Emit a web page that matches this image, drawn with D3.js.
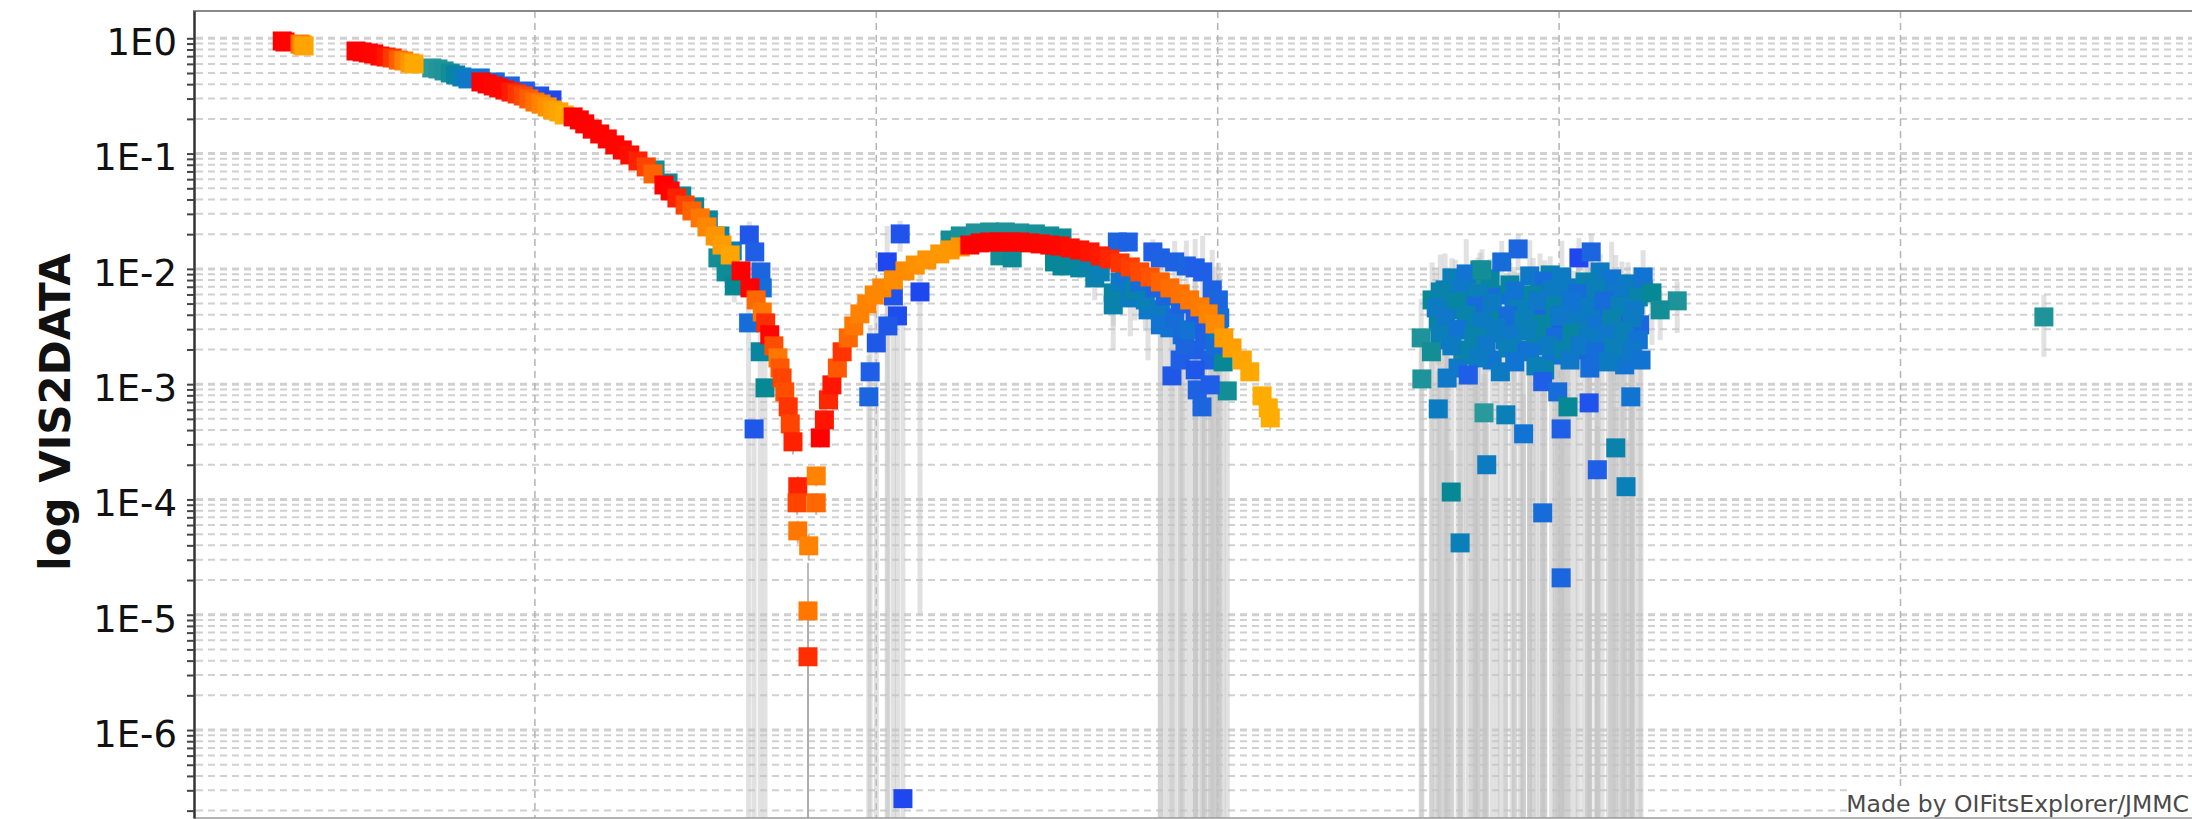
<!DOCTYPE html>
<html>
<head>
<meta charset="utf-8">
<script src="https://cdn.jsdelivr.net/npm/d3@7"></script>
<style>
  html, body { margin: 0; padding: 0; background: #fff; }
  svg { display: block; }
</style>
</head>
<body>
<svg id="chart" width="2192" height="819"></svg>
<script>
// ---- K band (long wavelengths): spatial frequency, squared visibility, error, wavelength (µm)
const kFreq = [
  13.0, 13.4, 15.6, 15.9, 16.2,
  23.8, 24.7, 25.6, 26.4, 27.3, 28.2, 29.1, 30.0, 30.8, 31.7, 32.3,
  42.1, 43.0, 43.9, 44.7, 45.6, 46.5, 47.4, 48.3, 49.1, 50.0, 50.9, 51.8, 52.6, 53.5, 54.3,
  55.6, 56.5, 57.3, 58.4, 59.5, 60.6, 61.7, 62.8, 63.9, 65.1, 66.3, 67.3,
  68.9, 69.8, 70.8, 72.0, 73.0, 74.2, 75.2, 76.4, 77.4, 78.6,
  80.2, 81.5, 82.4, 83.3, 83.8, 84.4, 85.0, 85.6, 85.9, 86.2, 86.6, 87.1, 87.4, 87.8,
  88.5, 88.4, 88.5, 90.1, 90.0, 90.0, 91.2, 91.2,
  91.8, 92.4, 93.0, 93.5, 94.3, 95.0, 95.9, 96.7, 97.6, 98.6, 99.7, 100.8, 102.5, 104.2, 105.7, 107.4, 109.3, 110.8, 112.3,
  113.7, 115.2, 116.6, 118.1, 119.6, 121.0, 122.5, 124.0, 125.4, 126.9, 128.4, 129.8, 131.3, 132.8, 134.2, 135.7,
  137.2, 138.6, 140.1, 141.6, 143.0, 144.5, 145.9, 147.4, 148.6, 149.6, 150.9, 152.1, 153.6, 154.7, 156.5, 157.4, 157.7
];
const kVis2 = [
  0.948, 0.929, 0.892, 0.875, 0.858,
  0.776, 0.761, 0.746, 0.731, 0.702, 0.688, 0.675, 0.648, 0.636, 0.611, 0.599,
  0.418, 0.402, 0.386, 0.371, 0.356, 0.342, 0.329, 0.316, 0.298, 0.280, 0.269, 0.254, 0.239, 0.230, 0.216,
  0.208, 0.196, 0.181, 0.163, 0.148, 0.134, 0.119, 0.1075, 0.0973, 0.0863, 0.0766, 0.0666,
  0.0534, 0.0474, 0.0412, 0.0358, 0.0318, 0.0277, 0.0231, 0.0193, 0.0161, 0.0132,
  9.60e-3, 6.84e-3, 5.38e-3, 4.23e-3, 3.40e-3, 2.68e-3, 2.15e-3, 1.69e-3, 1.38e-3, 1.13e-3, 8.57e-4, 6.35e-4, 4.52e-4, 3.16e-4,
  1.29e-4, 9.35e-5, 5.34e-5, 3.96e-5, 1.08e-5, 4.32e-6, 9.35e-5, 1.60e-4,
  3.42e-4, 4.90e-4, 7.31e-4, 9.86e-4, 1.38e-3, 1.91e-3, 2.52e-3, 3.20e-3, 4.07e-3, 4.97e-3, 5.94e-3, 6.84e-3, 8.02e-3, 9.60e-3, 0.0108, 0.01196, 0.01348, 0.0146, 0.0155,
  0.0161, 0.0168, 0.0171, 0.0171, 0.0171, 0.0171, 0.0168, 0.01646, 0.0161, 0.0158, 0.0152, 0.0146, 0.01403, 0.01296, 0.0122, 0.01126,
  0.0104, 9.41e-3, 8.51e-3, 7.70e-3, 6.84e-3, 6.07e-3, 5.38e-3, 4.68e-3, 4.07e-3, 3.33e-3, 2.52e-3, 2.06e-3, 1.62e-3, 1.28e-3, 7.91e-4, 6.23e-4, 5.10e-4
];
const kErr = [
  0.012, 0.012, 0.011, 0.011, 0.011,
  0.010, 0.010, 0.010, 0.010, 0.009, 0.009, 0.009, 0.009, 0.008, 0.008, 0.008,
  0.006, 0.006, 0.005, 0.005, 0.005, 0.005, 0.005, 0.004, 0.004, 0.004, 0.004, 0.004, 0.003, 0.003, 0.003,
  0.003, 0.003, 0.003, 0.002, 0.002, 0.002, 0.002, 0.0015, 0.0014, 0.0013, 0.0012, 0.0011,
  0.0009, 0.0008, 0.0007, 0.0006, 0.0006, 0.0005, 0.0005, 0.0004, 0.0004, 0.0003,
  2.5e-4, 2.2e-4, 2.0e-4, 1.8e-4, 1.6e-4, 1.5e-4, 1.4e-4, 1.3e-4, 1.2e-4, 1.1e-4, 1.0e-4, 9e-5, 8e-5, 7e-5,
  3e-5, 2e-5, 1.2e-5, 1e-5, 1.74e-5, 8e-6, 2e-5, 3e-5,
  6e-5, 6e-5, 7e-5, 8e-5, 9e-5, 1.0e-4, 1.1e-4, 1.2e-4, 1.3e-4, 1.4e-4, 1.5e-4, 1.6e-4, 1.7e-4, 1.8e-4, 2e-4, 2e-4, 2e-4, 2e-4, 2e-4,
  2e-4, 2e-4, 2e-4, 2e-4, 2e-4, 2e-4, 2e-4, 2e-4, 2e-4, 2e-4, 2e-4, 2e-4, 2e-4, 2e-4, 2e-4, 2e-4,
  2e-4, 2e-4, 2e-4, 2e-4, 2e-4, 2e-4, 2e-4, 2e-4, 2e-4, 2e-4, 2e-4, 2e-4, 2e-4, 2e-4, 1.5e-4, 1.2e-4, 1e-4
];
const kWave = [
  2.40, 2.37, 2.14, 2.08, 2.02,
  2.40, 2.39, 2.37, 2.35, 2.33, 2.30, 2.24, 2.17, 2.10, 2.05, 2.01,
  2.40, 2.38, 2.36, 2.34, 2.32, 2.29, 2.25, 2.21, 2.17, 2.13, 2.10, 2.07, 2.04, 2.02, 2.00,
  2.40, 2.40, 2.39, 2.38, 2.37, 2.36, 2.35, 2.33, 2.31, 2.28, 2.22, 2.16,
  2.40, 2.36, 2.28, 2.22, 2.16, 2.12, 2.09, 2.06, 2.04, 2.02,
  2.40, 2.38, 2.15, 2.12, 2.26, 2.36, 2.20, 2.12, 2.18, 2.22, 2.20, 2.25, 2.22, 2.28,
  2.28, 2.22, 2.12, 2.10, 2.12, 2.26, 2.15, 2.10,
  2.40, 2.30, 2.27, 2.30, 2.18, 2.25, 2.15, 2.12, 2.10, 2.10, 2.09, 2.09, 2.08, 2.08, 2.07, 2.06, 2.05, 2.05, 2.06,
  2.40, 2.40, 2.39, 2.38, 2.37, 2.36, 2.35, 2.34, 2.33, 2.32, 2.31, 2.31, 2.30, 2.29, 2.27, 2.25,
  2.23, 2.21, 2.19, 2.16, 2.14, 2.13, 2.12, 2.11, 2.10, 2.08, 2.04, 2.03, 2.02, 2.01, 2.00, 2.00, 2.00
];

// ---- H band (short wavelengths), first and second lobes
const hFreq = [
  34.9, 35.8, 36.7, 37.6, 38.4, 39.3, 40.2, 42.0, 44.2, 46.4, 48.6, 50.7, 52.5,
  67.6, 69.5, 71.5, 73.4, 75.4, 77.1, 78.9, 76.8, 78.0, 79.2,
  81.4, 82.2, 83.1, 83.3, 81.3, 83.0, 83.7, 82.1,
  103.5, 101.6, 102.5, 103.1, 106.4, 100.0, 99.1, 98.9, 101.7, 103.9,
  110.8, 112.3, 114.5, 116.6, 118.9, 121.0, 123.3, 125.4, 127.2, 118.1, 119.9, 126.1, 127.2,
  135.3, 136.9, 140.5, 143.7, 145.4, 147.8, 149.2, 149.5,
  129.8, 132.0, 134.7, 134.7, 137.2, 139.8, 143.0, 144.8, 146.7, 148.9, 150.8, 143.3, 147.0, 147.7, 151.4,
  131.3, 132.8, 135.7, 136.4, 137.9, 138.6, 139.4, 140.8, 141.6, 141.6, 142.3, 143.7, 144.5, 144.5,
  145.2, 145.9, 146.7, 146.7, 148.1, 148.1, 148.9, 149.6, 150.1, 141.6, 146.7, 150.1, 150.3
];
const hVis2 = [
  0.553, 0.542, 0.521, 0.500, 0.481, 0.462, 0.444, 0.453, 0.418, 0.386, 0.349, 0.316, 0.292,
  0.0721, 0.0556, 0.0429, 0.0345, 0.0266, 0.0193, 0.0143, 0.01245, 9.41e-3, 7.12e-3,
  0.0197, 0.01403, 9.41e-3, 6.84e-3, 3.40e-3, 1.91e-3, 9.29e-4, 4.09e-4,
  0.0201, 0.01149, 5.83e-3, 3.91e-3, 6.31e-3, 2.28e-3, 1.28e-3, 7.76e-4, 3.20e-3, 2.54e-7,
  0.0178, 0.0193, 0.0205, 0.0209, 0.0209, 0.0205, 0.0201, 0.0193, 0.01855, 0.01296, 0.01245, 0.01149, 0.0106,
  0.0171, 0.0171, 0.01403, 0.01149, 0.0106, 9.41e-3, 6.57e-3, 4.41e-3,
  0.0102, 8.35e-3, 6.19e-3, 4.87e-3, 5.60e-3, 4.41e-3, 3.08e-3, 2.68e-3, 1.98e-3, 1.62e-3, 1.56e-3, 1.18e-3, 8.92e-4, 6.35e-4, 8.74e-4,
  0.01149, 9.41e-3, 7.70e-3, 8.86e-3, 6.57e-3, 7.70e-3, 5.38e-3, 6.84e-3, 4.41e-3, 3.27e-3, 5.83e-3, 3.76e-3, 4.97e-3, 1.62e-3,
  2.19e-3, 2.96e-3, 4.23e-3, 1.33e-3, 2.42e-3, 3.47e-3, 9.86e-4, 2.19e-3, 2.96e-3, 0.01245, 0.0102, 5.38e-3, 3.76e-3
];
const hErr = [
  0.015, 0.015, 0.015, 0.014, 0.014, 0.013, 0.013, 0.012, 0.012, 0.011, 0.010, 0.010, 0.009,
  0.004, 0.003, 0.003, 0.0025, 0.002, 0.002, 0.0015, 0.002, 0.002, 0.002,
  0.006, 0.005, 0.004, 0.004, 0.0045, 0.0025, 0.0012, 0.0006,
  0.006, 0.012, 0.007, 0.005, 0.0063, 0.003, 0.002, 0.001, 0.004, 0.005,
  0.002, 0.002, 0.002, 0.002, 0.002, 0.002, 0.002, 0.002, 0.002, 0.002, 0.002, 0.002, 0.002,
  0.003, 0.003, 0.004, 0.006, 0.007, 0.010, 0.008, 0.006,
  0.002, 0.003, 0.003, 0.0029, 0.003, 0.0028, 0.004, 0.003, 0.0025, 0.002, 0.0018, 0.0015, 0.001, 0.0008, 0.001,
  0.002, 0.002, 0.003, 0.002, 0.003, 0.003, 0.0025, 0.004, 0.005, 0.004, 0.006, 0.004, 0.006, 0.002,
  0.003, 0.0035, 0.005, 0.0016, 0.003, 0.004, 0.0012, 0.0025, 0.0035, 0.004, 0.008, 0.006, 0.005
];
const hWave = [
  1.80, 1.79, 1.78, 1.76, 1.72, 1.68, 1.64, 1.62, 1.60, 1.58, 1.56, 1.54, 1.52,
  1.76, 1.75, 1.74, 1.73, 1.72, 1.70, 1.68, 1.76, 1.75, 1.74,
  1.55, 1.56, 1.58, 1.60, 1.60, 1.72, 1.74, 1.55,
  1.54, 1.52, 1.54, 1.53, 1.52, 1.55, 1.56, 1.58, 1.55, 1.52,
  1.76, 1.77, 1.78, 1.78, 1.78, 1.78, 1.77, 1.76, 1.75, 1.76, 1.75, 1.74, 1.73,
  1.58, 1.57, 1.56, 1.57, 1.58, 1.56, 1.57, 1.58,
  1.72, 1.70, 1.72, 1.70, 1.66, 1.64, 1.62, 1.60, 1.56, 1.57, 1.74, 1.55, 1.57, 1.58, 1.76,
  1.70, 1.68, 1.66, 1.62, 1.70, 1.60, 1.68, 1.58, 1.66, 1.62, 1.58, 1.60, 1.57, 1.56,
  1.58, 1.62, 1.56, 1.55, 1.57, 1.56, 1.56, 1.60, 1.66, 1.57, 1.56, 1.58, 1.60
];

// ---- H band, long baselines (noisy group) and the single longest baseline
const longFreq = [
  181.4, 182.3, 183.3, 183.6, 184.3, 184.8, 185.5, 185.9, 186.7, 187.2, 187.8, 188.4, 189.2, 189.9, 190.2,
  190.9, 191.4, 192.1, 192.8, 193.4, 194.0, 194.6, 195.3, 195.7, 196.5, 197.2, 197.9, 198.4, 198.9, 199.7,
  200.4, 201.0, 201.6, 202.3, 203.1, 203.6, 204.2, 205.0, 205.6, 206.3, 206.9, 207.5, 208.0, 208.6, 209.2,
  209.8, 210.4, 211.1, 211.8, 212.3, 185.2, 197.9, 204.5, 209.6, 191.4, 188.4, 198.7, 206.0,
  184.3, 186.4, 189.9, 195.7, 197.9, 200.4, 203.8, 207.7, 210.1,
  182.6, 185.8, 188.1, 193.5, 196.2, 199.0, 202.8, 205.4, 208.3, 211.6,
  182.0, 185.2, 187.8, 190.2, 194.3, 196.9, 199.4, 201.9, 204.5, 206.6, 208.9, 211.0,
  183.4, 186.4, 188.7, 192.5, 194.8, 197.5, 200.1, 202.8, 205.7, 207.7, 210.7,
  182.6, 185.2, 187.5, 190.8, 193.1, 195.4, 199.5, 201.9, 204.2, 206.9, 209.5, 211.6,
  184.3, 186.9, 189.3, 192.5, 195.7, 198.4, 200.7, 203.1, 205.4, 208.0, 210.7,
  188.1, 193.5, 196.6, 201.6, 207.2,
  194.0, 191.6, 202.9, 204.7, 188.7, 212.3, 213.6, 217.3, 214.8, 179.8, 181.3, 179.9, 183.6, 186.7, 182.3,
  189.0, 192.2, 194.8, 197.6, 199.8, 201.3, 204.4, 200.3, 208.3, 210.5, 212.0, 205.6, 189.4, 209.8, 184.2,
  197.6, 185.5, 200.3,
  271.0
];
const longVis2 = [
  5.38e-3, 3.47e-3, 6.57e-3, 2.42e-3, 4.41e-3, 8.02e-3, 2.96e-3, 1.79e-3, 5.38e-3, 3.61e-3, 2.19e-3, 6.84e-3, 4.41e-3, 2.78e-3, 1.62e-3,
  5.94e-3, 3.76e-3, 2.42e-3, 7.26e-3, 4.87e-3, 3.08e-3, 1.98e-3, 5.60e-3, 3.76e-3, 2.42e-3, 6.57e-3, 4.23e-3, 2.84e-3, 1.79e-3, 5.38e-3,
  3.61e-3, 2.19e-3, 6.84e-3, 4.59e-3, 2.96e-3, 1.98e-3, 5.94e-3, 3.99e-3, 2.52e-3, 1.62e-3, 6.57e-3, 4.41e-3, 2.96e-3, 1.91e-3, 5.60e-3,
  3.76e-3, 2.42e-3, 4.87e-3, 3.27e-3, 6.57e-3, 1.38e-3, 1.33e-3, 1.38e-3, 1.47e-3, 1.28e-3, 9.79e-3, 8.86e-3, 9.41e-3,
  8.35e-3, 9.04e-3, 8.18e-3, 8.69e-3, 7.86e-3, 8.51e-3, 7.70e-3, 8.18e-3, 7.41e-3,
  6.31e-3, 6.70e-3, 6.07e-3, 6.44e-3, 5.94e-3, 6.57e-3, 6.07e-3, 6.84e-3, 6.19e-3, 5.71e-3,
  4.59e-3, 5.17e-3, 4.77e-3, 5.07e-3, 4.50e-3, 5.28e-3, 4.77e-3, 5.17e-3, 4.68e-3, 5.28e-3, 4.77e-3, 4.32e-3,
  3.76e-3, 3.99e-3, 3.54e-3, 3.91e-3, 3.61e-3, 3.33e-3, 3.91e-3, 3.54e-3, 3.20e-3, 3.68e-3, 3.76e-3,
  2.73e-3, 2.96e-3, 2.62e-3, 3.08e-3, 2.68e-3, 2.90e-3, 2.57e-3, 2.78e-3, 2.52e-3, 2.73e-3, 2.90e-3, 2.42e-3,
  2.15e-3, 1.98e-3, 2.19e-3, 2.06e-3, 1.91e-3, 2.15e-3, 1.98e-3, 2.15e-3, 1.91e-3, 2.06e-3, 1.91e-3,
  1.69e-3, 1.56e-3, 1.44e-3, 1.62e-3, 1.56e-3,
  0.01489, 0.01149, 0.01245, 0.01403, 9.79e-3, 8.51e-3, 6.19e-3, 5.28e-3, 4.41e-3, 2.52e-3, 1.91e-3, 1.11e-3, 1.13e-3, 1.20e-3, 6.10e-4,
  5.64e-4, 5.42e-4, 3.71e-4, 1.05e-3, 8.57e-4, 6.35e-4, 6.88e-4, 4.09e-4, 2.80e-4, 7.76e-4, 1.62e-3, 1.81e-4, 2.00e-4, 1.29e-4, 1.16e-4,
  7.65e-5, 4.20e-5, 2.09e-5,
  3.83e-3
];
const longErr = [
  0.006, 0.002, 0.007, 0.003, 0.002, 0.004, 0.0035, 0.002, 0.003, 0.004, 0.0025, 0.003, 0.005, 0.0015, 0.002,
  0.0065, 0.002, 0.003, 0.004, 0.0055, 0.0015, 0.0025, 0.003, 0.0045, 0.0012, 0.007, 0.005, 0.0015, 0.002, 0.003,
  0.004, 0.0025, 0.003, 0.005, 0.0015, 0.0022, 0.0065, 0.002, 0.003, 0.0018, 0.003, 0.005, 0.0035, 0.001, 0.006,
  0.002, 0.003, 0.0055, 0.004, 0.003, 0.0016, 0.0015, 0.0016, 0.0017, 0.0015, 0.004, 0.004, 0.004,
  0.004, 0.009, 0.004, 0.009, 0.004, 0.009, 0.004, 0.009, 0.004,
  0.007, 0.003, 0.0065, 0.003, 0.0065, 0.003, 0.0065, 0.003, 0.007, 0.003,
  0.005, 0.002, 0.0055, 0.002, 0.005, 0.002, 0.0055, 0.002, 0.005, 0.002, 0.0055, 0.002,
  0.004, 0.0015, 0.004, 0.0015, 0.004, 0.0015, 0.0045, 0.0015, 0.0035, 0.0015, 0.004,
  0.003, 0.0012, 0.003, 0.0012, 0.003, 0.0012, 0.003, 0.0012, 0.003, 0.0012, 0.0035, 0.001,
  0.0025, 0.001, 0.0025, 0.001, 0.0022, 0.001, 0.0022, 0.001, 0.0022, 0.001, 0.0022,
  0.002, 0.0018, 0.0017, 0.0019, 0.0018,
  0.005, 0.006, 0.006, 0.006, 0.005, 0.006, 0.004, 0.0025, 0.002, 0.003, 0.0022, 0.0013, 0.0013, 0.0014, 7e-4,
  6.5e-4, 6e-4, 4.5e-4, 0.0012, 0.001, 7e-4, 8e-4, 5e-4, 3.5e-4, 9e-4, 0.0019, 2.5e-4, 2.5e-4, 2e-4, 1.5e-4,
  1e-4, 6e-5, 3e-5,
  0.0021
];
const longWave = [
  1.74, 1.72, 1.66, 1.60, 1.70, 1.68, 1.62, 1.75, 1.64, 1.72, 1.58, 1.76, 1.66, 1.70, 1.62,
  1.60, 1.74, 1.66, 1.72, 1.64, 1.76, 1.60, 1.70, 1.62, 1.74, 1.66, 1.58, 1.72, 1.62, 1.68,
  1.56, 1.70, 1.64, 1.60, 1.72, 1.58, 1.66, 1.62, 1.56, 1.64, 1.70, 1.58, 1.62, 1.60, 1.66,
  1.56, 1.64, 1.62, 1.58, 1.62, 1.64, 1.70, 1.60, 1.62, 1.66, 1.74, 1.70, 1.66,
  1.68, 1.62, 1.72, 1.64, 1.60, 1.66, 1.70, 1.62, 1.66,
  1.70, 1.64, 1.68, 1.62, 1.72, 1.66, 1.60, 1.68, 1.64, 1.70,
  1.66, 1.72, 1.60, 1.66, 1.68, 1.64, 1.70, 1.62, 1.66, 1.60, 1.68, 1.64,
  1.64, 1.70, 1.66, 1.60, 1.68, 1.72, 1.64, 1.66, 1.62, 1.70, 1.66,
  1.68, 1.62, 1.70, 1.66, 1.64, 1.68, 1.60, 1.72, 1.66, 1.64, 1.68, 1.62,
  1.66, 1.70, 1.64, 1.68, 1.62, 1.66, 1.70, 1.64, 1.60, 1.68, 1.64,
  1.66, 1.62, 1.68, 1.64, 1.66,
  1.58, 1.60, 1.52, 1.58, 1.76, 1.62, 1.74, 1.78, 1.76, 1.78, 1.76, 1.78, 1.64, 1.56, 1.66,
  1.80, 1.68, 1.62, 1.56, 1.60, 1.74, 1.54, 1.56, 1.70, 1.62, 1.62, 1.56, 1.66, 1.68, 1.74,
  1.60, 1.68, 1.58,
  1.78
];

// ---- Axis ticks and labels
const freqTicks = [50, 100, 150, 200, 250];
const vis2Decades = [1, 1e-1, 1e-2, 1e-3, 1e-4, 1e-5, 1e-6];
const decadeLabels = ["1E0", "1E-1", "1E-2", "1E-3", "1E-4", "1E-5", "1E-6"];
const yTitle = "log VIS2DATA";
const credit = "Made by OIFitsExplorer/JMMC";

// ---- Layout
const W = 2192, H = 819;
const plot = { left: 194, top: 11, right: W, bottom: 818 };
const markerSize = 19;

const svg = d3.select("#chart");
svg.append("rect").attr("width", W).attr("height", H).attr("fill", "#fff");

const x = d3.scaleLinear().domain([0, 300]).range([193.5, 193.5 + 300 * 6.828]);
const y = d3.scaleLog().domain([1.726e-7, 1.725]).range([plot.bottom, plot.top]);

const waveColor = d3.scaleLinear()
  .domain([1.50, 1.56, 1.62, 1.68, 1.74, 1.80, 2.00, 2.08, 2.16, 2.24, 2.32, 2.40])
  .range(["#1e3cf4", "#1f5ee6", "#1274d2", "#0a7fb8", "#078895", "#2a999b",
          "#ffac00", "#ff8c00", "#ff6200", "#ff3a00", "#ff0800", "#ff0000"])
  .clamp(true);

svg.append("defs").append("clipPath").attr("id", "plotClip")
  .append("rect")
  .attr("x", plot.left).attr("y", plot.top)
  .attr("width", plot.right - plot.left).attr("height", plot.bottom - plot.top);

// log gridline values: every 1..9 x decade inside the domain
const gridVals = [];
for (let e = -7; e <= 0; e++) {
  for (let m = 1; m <= 9; m++) {
    const v = m * Math.pow(10, e);
    if (v >= y.domain()[0] && v <= y.domain()[1]) gridVals.push(v);
  }
}
const isDecade = d => Math.abs(Math.log10(d) - Math.round(Math.log10(d))) < 1e-9;

const grid = svg.append("g").attr("clip-path", "url(#plotClip)");
grid.selectAll("line.hgrid").data(gridVals).join("line")
  .attr("class", "hgrid")
  .attr("x1", plot.left + 2).attr("x2", plot.right)
  .attr("y1", d => y(d)).attr("y2", d => y(d))
  .attr("stroke", "#d0d0d0")
  .attr("stroke-width", d => isDecade(d) ? 3 : 2)
  .attr("stroke-dasharray", "7,5");
grid.selectAll("line.vgrid").data(freqTicks).join("line")
  .attr("class", "vgrid")
  .attr("x1", d => x(d)).attr("x2", d => x(d))
  .attr("y1", plot.top).attr("y2", plot.bottom)
  .attr("stroke", "#b4b4b4")
  .attr("stroke-width", 1.5)
  .attr("stroke-dasharray", "7,5");

// ---- data assembly
const toPts = (f, v, e, w) => f.map((d, i) => ({ f: d, v: v[i], e: e[i], w: w[i] }));
const kPts = toPts(kFreq, kVis2, kErr, kWave);
const hPts = toPts(hFreq, hVis2, hErr, hWave).concat(toPts(longFreq, longVis2, longErr, longWave));

const lowY = (v, e) => (v - e) > y.domain()[0] ? y(v - e) : plot.bottom + 10;

const data = svg.append("g").attr("clip-path", "url(#plotClip)");

// error bars
data.append("g").selectAll("line").data(hPts).join("line")
  .attr("x1", d => x(d.f)).attr("x2", d => x(d.f))
  .attr("y1", d => y(d.v + d.e)).attr("y2", d => lowY(d.v, d.e))
  .attr("stroke", "#c4c4c4").attr("stroke-opacity", 0.5).attr("stroke-width", 5);
data.append("g").selectAll("line").data(kPts).join("line")
  .attr("x1", d => x(d.f)).attr("x2", d => x(d.f))
  .attr("y1", d => y(d.v + d.e)).attr("y2", d => lowY(d.v, d.e))
  .attr("stroke", "#aaaaaa").attr("stroke-opacity", 0.8).attr("stroke-width", 2);

// markers: H band first, K band on top
const drawSquares = pts => data.append("g").selectAll("rect").data(pts).join("rect")
  .attr("x", d => x(d.f) - markerSize / 2)
  .attr("y", d => y(d.v) - markerSize / 2)
  .attr("width", markerSize).attr("height", markerSize)
  .attr("fill", d => waveColor(d.w));
drawSquares(hPts);
drawSquares(kPts);

// ---- frame
svg.append("line")
  .attr("x1", plot.left - 1).attr("x2", plot.right)
  .attr("y1", plot.top).attr("y2", plot.top)
  .attr("stroke", "#8a8a8a").attr("stroke-width", 2);
svg.append("line")
  .attr("x1", plot.left).attr("x2", plot.right)
  .attr("y1", plot.bottom).attr("y2", plot.bottom)
  .attr("stroke", "#9a9a9a").attr("stroke-width", 1.5);

// ---- y axis
const labelFor = d => {
  const i = vis2Decades.findIndex(v => Math.abs(v - d) / v < 1e-6);
  return i >= 0 ? decadeLabels[i] : "";
};
const yAxis = d3.axisLeft(y)
  .tickValues(gridVals)
  .tickSize(7)
  .tickSizeOuter(0)
  .tickPadding(10)
  .tickFormat(labelFor);

const axisG = svg.append("g")
  .attr("transform", `translate(${plot.left},0)`)
  .call(yAxis);
axisG.select(".domain").attr("stroke", "#333").attr("stroke-width", 2.5);
axisG.selectAll(".tick line").attr("stroke", "#444").attr("stroke-width", 2);
axisG.selectAll(".tick text")
  .attr("dy", "0.44em")
  .attr("fill", "#111")
  .style("font-family", "'DejaVu Sans', sans-serif")
  .style("font-size", "37px");

// axis title
svg.append("text")
  .attr("transform", "translate(70,412) rotate(-90)")
  .attr("text-anchor", "middle")
  .attr("fill", "#111")
  .style("font-family", "'DejaVu Sans', sans-serif")
  .style("font-weight", "bold")
  .style("font-size", "42px")
  .text(yTitle);

// credit line, right-aligned in the bottom corner
svg.append("rect")
  .attr("x", 1852).attr("y", 789).attr("width", W - 1852).attr("height", 28)
  .attr("fill", "#fff");
svg.append("text")
  .attr("x", W - 3).attr("y", 812)
  .attr("text-anchor", "end")
  .attr("fill", "#4a4a4a")
  .style("font-family", "'DejaVu Sans', sans-serif")
  .style("font-size", "23.5px")
  .text(credit);
</script>
</body>
</html>
